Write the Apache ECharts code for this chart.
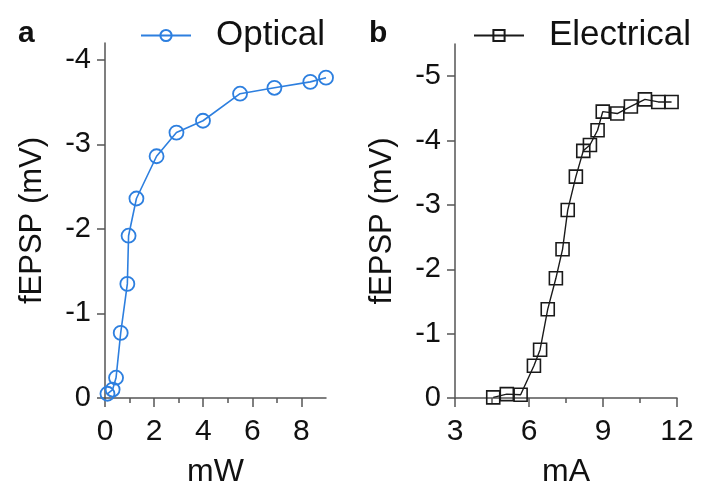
<!DOCTYPE html>
<html>
<head>
<meta charset="utf-8">
<script src="https://cdn.jsdelivr.net/npm/echarts@6/dist/echarts.min.js"></script>
<style>
html, body { margin: 0; padding: 0; background: #fff; }
#chart { width: 702px; height: 490px; }
</style>
</head>
<body>
<div id="chart"></div>
<script>
// panel a: optical stimulation
var opticalPower = [0.1, 0.31, 0.45, 0.64, 0.91, 0.96, 1.28, 2.1, 2.91, 3.99, 5.5, 6.9, 8.36, 9.0];
var opticalFepsp = [-0.05, -0.1, -0.24, -0.77, -1.35, -1.92, -2.36, -2.86, -3.14, -3.28, -3.6, -3.67, -3.74, -3.79];
// panel b: electrical stimulation
var electricalCurrent = [4.55, 5.1, 5.66, 6.2, 6.45, 6.76, 7.09, 7.36, 7.57, 7.9, 8.2, 8.47, 8.78, 8.99, 9.58, 10.13, 10.7, 11.24, 11.78];
var electricalFepsp = [-0.01, -0.06, -0.05, -0.5, -0.75, -1.38, -1.86, -2.31, -2.92, -3.44, -3.84, -3.93, -4.16, -4.45, -4.42, -4.53, -4.64, -4.6, -4.6];

var opticalXTicks = [0, 2, 4, 6, 8];
var opticalXMinor = [1, 3, 5, 7];
var opticalYTicks = [0, -1, -2, -3, -4];
var electricalYTicks = [0, -1, -2, -3, -4, -5];

var FONT = 'Liberation Sans, Arial, sans-serif';
var AXIS_COLOR = '#555';

function pairs(xs, ys) {
    return xs.map(function (x, i) { return [x, ys[i]]; });
}

function yAxis(grid, min, ticks) {
    return {
        type: 'value',
        gridIndex: grid,
        min: min,
        max: 0,
        inverse: true,
        name: 'fEPSP (mV)',
        nameLocation: 'middle',
        nameGap: 57,
        nameTextStyle: { fontFamily: FONT, fontSize: 31, color: '#111' },
        axisLine: { show: true, lineStyle: { color: AXIS_COLOR, width: 1.5 } },
        axisTick: { show: true, length: 8, customValues: ticks, lineStyle: { color: AXIS_COLOR, width: 1.5 } },
        axisLabel: { customValues: ticks, margin: 14, fontFamily: FONT, fontSize: 29, color: '#111' },
        splitLine: { show: false }
    };
}

var chart = echarts.init(document.getElementById('chart'));
chart.setOption({
    animation: false,
    backgroundColor: '#fff',
    title: [
        { text: 'a', left: 13, top: 14, textStyle: { fontFamily: FONT, fontSize: 30, fontWeight: 'bold', color: '#111' } },
        { text: 'b', left: 364, top: 14, textStyle: { fontFamily: FONT, fontSize: 30, fontWeight: 'bold', color: '#111' } }
    ],
    legend: [
        {
            data: ['Optical'], left: 135, top: 13, itemWidth: 50, itemHeight: 14,
            textStyle: { fontFamily: FONT, fontSize: 35, color: '#111', padding: [0, 0, 0, 20] }
        },
        {
            data: ['Electrical'], left: 468, top: 13, itemWidth: 50, itemHeight: 14,
            textStyle: { fontFamily: FONT, fontSize: 35, color: '#111', padding: [0, 0, 0, 20] }
        }
    ],
    grid: [
        { left: 105, top: 43, width: 221, height: 355, outerBoundsMode: 'none' },
        { left: 455, top: 44, width: 222, height: 354, outerBoundsMode: 'none' }
    ],
    xAxis: [
        {
            type: 'value', gridIndex: 0, min: 0, max: 9, position: 'bottom',
            name: 'mW', nameLocation: 'middle', nameGap: 58,
            nameTextStyle: { fontFamily: FONT, fontSize: 32, color: '#111' },
            axisLine: { onZero: false, lineStyle: { color: AXIS_COLOR, width: 1.5 } },
            axisTick: { length: 9, customValues: opticalXTicks, lineStyle: { color: AXIS_COLOR, width: 1.5 } },
            axisLabel: { customValues: opticalXTicks, margin: 19, fontFamily: FONT, fontSize: 30, color: '#111' },
            splitLine: { show: false }
        },
        {
            type: 'value', gridIndex: 0, min: 0, max: 9, position: 'bottom', offset: 0,
            axisLine: { show: false, onZero: false },
            axisTick: { length: 5, customValues: opticalXMinor, lineStyle: { color: AXIS_COLOR, width: 1.5 } },
            axisLabel: { show: false },
            splitLine: { show: false }
        },
        {
            type: 'value', gridIndex: 1, min: 3, max: 12, interval: 3, position: 'bottom',
            name: 'mA', nameLocation: 'middle', nameGap: 58,
            nameTextStyle: { fontFamily: FONT, fontSize: 32, color: '#111' },
            axisLine: { onZero: false, lineStyle: { color: AXIS_COLOR, width: 1.5 } },
            axisTick: { length: 9, lineStyle: { color: AXIS_COLOR, width: 1.5 } },
            minorTick: { show: true, splitNumber: 2, length: 5, lineStyle: { color: AXIS_COLOR, width: 1.5 } },
            axisLabel: { margin: 19, fontFamily: FONT, fontSize: 30, color: '#111' },
            splitLine: { show: false }
        }
    ],
    yAxis: [
        yAxis(0, -4.2, opticalYTicks),
        yAxis(1, -5.5, electricalYTicks)
    ],
    series: [
        {
            name: 'Optical', type: 'line', xAxisIndex: 0, yAxisIndex: 0,
            data: pairs(opticalPower, opticalFepsp),
            symbol: 'circle', symbolSize: 14,
            itemStyle: { color: 'rgba(0,0,0,0)', borderColor: '#2d7fdf', borderWidth: 1.8 },
            lineStyle: { color: '#2d7fdf', width: 1.6 }
        },
        {
            name: 'Electrical', type: 'line', xAxisIndex: 2, yAxisIndex: 1,
            data: pairs(electricalCurrent, electricalFepsp),
            symbol: 'rect', symbolSize: 13,
            itemStyle: { color: 'rgba(0,0,0,0)', borderColor: '#1a1a1a', borderWidth: 1.6 },
            lineStyle: { color: '#1a1a1a', width: 1.4 }
        }
    ]
});
</script>
</body>
</html>
